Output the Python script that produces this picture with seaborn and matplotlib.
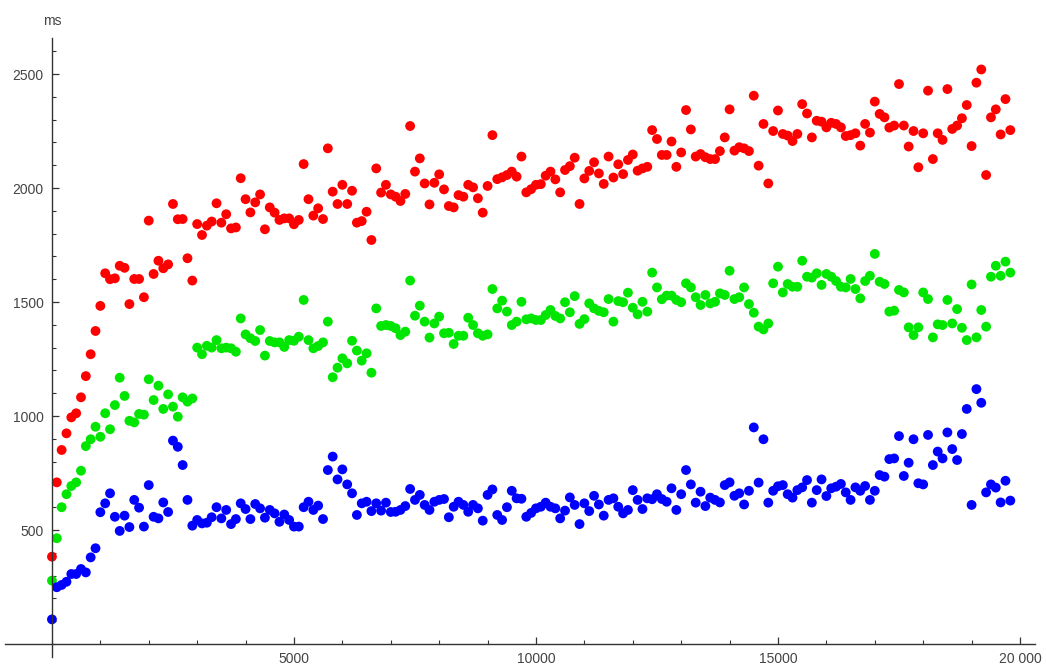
import numpy as np
import pandas as pd
import matplotlib
matplotlib.use("Agg")
import matplotlib.pyplot as plt
from matplotlib.ticker import FixedLocator, MultipleLocator
import seaborn as sns

# sample sizes: 0, 100, ..., 19800
sizes = list(range(0, 19900, 100))

blue_ms = [108, 249, 259, 273, 307, 307, 329, 314, 380, 420,
           578, 617, 661, 558, 496, 563, 513, 632, 598, 515,
           697, 558, 551, 621, 579, 892, 865, 785, 632, 519,
           544, 529, 532, 556, 600, 551, 588, 526, 548, 617,
           592, 548, 614, 595, 554, 588, 573, 536, 568, 544,
           515, 515, 600, 624, 588, 607, 548, 763, 822, 722,
           766, 700, 661, 566, 617, 624, 583, 617, 585, 620,
           579, 580, 588, 605, 680, 632, 654, 610, 588, 624,
           632, 636, 556, 602, 624, 610, 580, 610, 595, 541,
           654, 678, 566, 544, 600, 672, 639, 637, 558, 575,
           595, 602, 620, 602, 595, 551, 585, 643, 610, 526,
           617, 583, 650, 612, 563, 632, 639, 602, 573, 588,
           675, 632, 592, 639, 635, 657, 636, 624, 683, 588,
           657, 763, 700, 620, 668, 605, 642, 632, 621, 697,
           709, 650, 661, 612, 672, 950, 708, 898, 620, 672,
           692, 697, 657, 642, 675, 687, 719, 620, 675, 722,
           649, 683, 690, 702, 665, 632, 687, 672, 693, 632,
           672, 741, 734, 811, 814, 912, 737, 795, 898, 705,
           700, 917, 785, 844, 814, 928, 855, 807, 921, 1031,
           610, 1118, 1058, 665, 700, 686, 621, 716, 629]

green_ms = [278, 464, 600, 657, 693, 709, 760, 868, 898, 953,
            909, 1012, 942, 1048, 1168, 1088, 979, 972, 1009, 1006,
            1161, 1070, 1133, 1031, 1095, 1041, 997, 1082, 1063, 1077,
            1300, 1271, 1308, 1300, 1333, 1297, 1300, 1297, 1282, 1428,
            1358, 1341, 1329, 1377, 1265, 1329, 1323, 1323, 1303, 1333,
            1330, 1348, 1509, 1333, 1297, 1307, 1323, 1414, 1170, 1212,
            1253, 1231, 1330, 1287, 1243, 1275, 1190, 1472, 1395, 1399,
            1395, 1385, 1355, 1370, 1594, 1440, 1484, 1414, 1344, 1406,
            1436, 1363, 1365, 1316, 1352, 1352, 1431, 1399, 1363, 1352,
            1358, 1557, 1472, 1506, 1458, 1399, 1414, 1501, 1424, 1428,
            1421, 1421, 1443, 1465, 1439, 1428, 1499, 1455, 1526, 1404,
            1425, 1494, 1472, 1461, 1455, 1513, 1414, 1504, 1499, 1541,
            1475, 1446, 1501, 1458, 1629, 1564, 1512, 1528, 1528, 1509,
            1499, 1582, 1564, 1521, 1487, 1531, 1494, 1501, 1538, 1531,
            1637, 1513, 1521, 1564, 1491, 1453, 1392, 1380, 1406, 1582,
            1655, 1542, 1579, 1567, 1567, 1681, 1611, 1607, 1626, 1575,
            1623, 1611, 1592, 1567, 1564, 1601, 1557, 1516, 1592, 1615,
            1711, 1589, 1579, 1458, 1462, 1553, 1542, 1389, 1355, 1389,
            1542, 1513, 1345, 1402, 1399, 1509, 1406, 1469, 1387, 1333,
            1577, 1345, 1465, 1392, 1611, 1659, 1615, 1677, 1629]

red_ms = [383, 709, 851, 924, 994, 1012, 1082, 1175, 1271, 1373,
          1483, 1626, 1600, 1604, 1659, 1650, 1491, 1601, 1601, 1521,
          1857, 1623, 1681, 1648, 1665, 1930, 1863, 1864, 1692, 1594,
          1842, 1794, 1835, 1853, 1933, 1848, 1885, 1823, 1827, 2043,
          1951, 1893, 1937, 1972, 1819, 1915, 1892, 1860, 1867, 1867,
          1841, 1860, 2105, 1951, 1879, 1911, 1864, 2174, 1984, 1930,
          2014, 1930, 1988, 1848, 1855, 1896, 1772, 2086, 1980, 2014,
          1972, 1962, 1943, 1974, 2272, 2072, 2130, 2020, 1928, 2023,
          2060, 1994, 1921, 1915, 1969, 1962, 2014, 2003, 1955, 1892,
          2009, 2232, 2039, 2047, 2057, 2072, 2050, 2138, 1981, 1995,
          2014, 2017, 2054, 2072, 2038, 1981, 2079, 2096, 2133, 1930,
          2042, 2075, 2113, 2064, 2018, 2138, 2046, 2104, 2061, 2123,
          2147, 2076, 2086, 2093, 2254, 2215, 2145, 2145, 2204, 2093,
          2156, 2342, 2257, 2138, 2149, 2135, 2127, 2127, 2162, 2222,
          2345, 2164, 2179, 2174, 2162, 2405, 2098, 2281, 2020, 2250,
          2340, 2237, 2230, 2206, 2237, 2368, 2327, 2222, 2295, 2291,
          2266, 2286, 2281, 2266, 2228, 2232, 2240, 2186, 2281, 2243,
          2379, 2325, 2310, 2265, 2274, 2456, 2274, 2182, 2250, 2091,
          2240, 2427, 2127, 2240, 2211, 2434, 2259, 2274, 2306, 2364,
          2184, 2462, 2520, 2057, 2310, 2345, 2235, 2390, 2254]

x_tick_values = [5000, 10000, 15000, 20000]
x_tick_labels = ["5000", "10000", "15000", "20 000"]
y_tick_values = [500, 1000, 1500, 2000, 2500]
y_tick_labels = ["500", "1000", "1500", "2000", "2500"]

series_names = ["red", "green", "blue"]
series_values = [red_ms, green_ms, blue_ms]
palette = {"red": "#ff0000", "green": "#00e600", "blue": "#0000ff"}

df = pd.concat(
    [pd.DataFrame({"n": sizes, "ms": vals, "series": name})
     for name, vals in zip(series_names, series_values)],
    ignore_index=True,
)

sns.set_style("white")
plt.rcParams["font.family"] = ["Liberation Sans", "DejaVu Sans"]

W, H = 1046, 665
fig = plt.figure(figsize=(W / 100, H / 100), dpi=100)
# axes box in pixel terms: left 5, right 1035, top 38, bottom 657
ax = fig.add_axes([5 / W, (H - 657) / H, 1030 / W, (657 - 38) / H])

sns.scatterplot(data=df, x="n", y="ms", hue="series", palette=palette,
                hue_order=series_names, s=50, edgecolor="none",
                legend=False, ax=ax)

ax.set_xlim(-970, 20310)
ax.set_ylim(-57, 2658)

# axes cross at the origin
for side in ("top", "right"):
    ax.spines[side].set_visible(False)
ax.spines["left"].set_position(("data", 0))
ax.spines["bottom"].set_position(("data", 0))
for side in ("left", "bottom"):
    ax.spines[side].set_color("#333333")
    ax.spines[side].set_linewidth(1.0)

ax.xaxis.set_major_locator(FixedLocator(x_tick_values))
ax.set_xticklabels(x_tick_labels)
ax.xaxis.set_minor_locator(MultipleLocator(1000))
ax.yaxis.set_major_locator(FixedLocator(y_tick_values))
ax.set_yticklabels(y_tick_labels)
ax.yaxis.set_minor_locator(MultipleLocator(100))

ax.tick_params(which="both", direction="in", color="#333333",
               labelcolor="#444444", labelsize=10)
ax.tick_params(which="major", length=5, width=0.9)
ax.tick_params(which="minor", length=3, width=0.8)
ax.tick_params(axis="y", which="both", left=True, pad=6)
ax.tick_params(axis="x", which="both", bottom=True, pad=6)

ax.set_xlabel("")
ax.set_ylabel("")
# axis label above the top of the vertical axis
ax.annotate("ms", xy=(0, 1.0), xycoords=ax.get_xaxis_transform(),
            xytext=(0, 12), textcoords="offset points",
            ha="center", va="center", fontsize=10, color="#444444")
ax.patch.set_alpha(0)

fig.savefig("out.png", dpi=100)
